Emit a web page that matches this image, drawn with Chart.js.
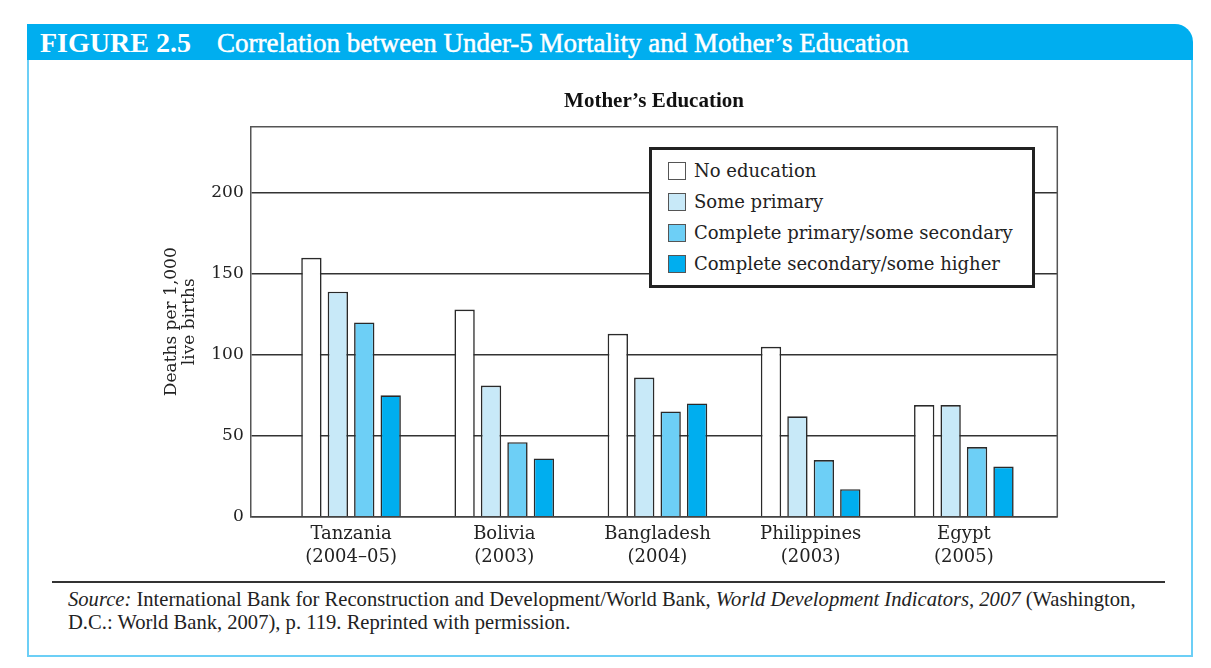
<!DOCTYPE html>
<html><head><meta charset="utf-8">
<script src="https://cdn.jsdelivr.net/npm/chart.js@4.4.0/dist/chart.umd.min.js"></script>
<style>
html,body{margin:0;padding:0;background:#fff;width:1211px;height:668px;overflow:hidden;}
#hdr{position:absolute;left:27px;top:24px;width:1166px;height:36px;background:#00AEEF;border-top-right-radius:18px;color:#fff;font-family:"Liberation Serif",serif;font-size:27px;line-height:38px;white-space:nowrap;}
#hdr .fig{position:absolute;left:13px;top:0;font-weight:bold;font-size:28px;}
#hdr .ttl{position:absolute;left:190px;top:0;-webkit-text-stroke:0.5px #fff;}
#frame{position:absolute;left:27px;top:60px;width:1162px;height:595px;border:2px solid #6ccff6;border-top:none;}
#wrap{position:absolute;left:0;top:0;width:1211px;height:668px;z-index:1;}
#legend{position:absolute;left:649px;top:147px;width:380px;height:130px;border:3px solid #222;background:#fff;z-index:2;font-family:"DejaVu Serif",serif;font-size:18px;color:#222;padding-top:5px;box-sizing:content-box;}
#legend .row{height:31px;display:flex;align-items:center;padding-left:16px;}
#legend .sw{width:16px;height:16px;border:1.5px solid #555;margin-right:8px;flex:none;}
#sep{position:absolute;left:52px;top:581px;width:1113px;height:2px;background:#333;}
#src{position:absolute;left:68px;top:588px;width:1100px;font-family:"Liberation Serif",serif;font-size:20.6px;line-height:23px;color:#222;}
</style></head>
<body>
<div id="hdr"><span class="fig">FIGURE 2.5</span><span class="ttl">Correlation between Under-5 Mortality and Mother’s Education</span></div>
<div id="frame"></div>
<div id="wrap"><canvas id="c" width="1211" height="668"></canvas></div>
<div id="legend"></div>
<div id="sep"></div>
<div id="src"><i>Source:</i> International Bank for Reconstruction and Development/World Bank, <i>World Development Indicators, 2007</i> (Washington, D.C.: World Bank, 2007), p. 119. Reprinted with permission.</div>
<script>
const categories = [["Tanzania","(2004–05)"],["Bolivia","(2003)"],["Bangladesh","(2004)"],["Philippines","(2003)"],["Egypt","(2005)"]];
const seriesNames = ["No education","Some primary","Complete primary/some secondary","Complete secondary/some higher"];
const noEducation = [160,128,113,105,69];
const somePrimary = [139,81,86,62,69];
const completePrimary = [120,46,65,35,43];
const completeSecondary = [75,36,70,17,31];
const yTicks = [0,50,100,150,200];
const seriesColors = ["#ffffff","#c8e9f8","#6dcff6","#00aeef"];

const seriesValues = [noEducation, somePrimary, completePrimary, completeSecondary];
const datasets = seriesValues.map((vals, k) => ({
  label: seriesNames[k],
  data: vals.map((v, i) => ({x: i, y: v})),
  backgroundColor: seriesColors[k],
  borderColor: "#2a2a2a",
  borderWidth: 1.6,
  categoryPercentage: 0.69,
  barPercentage: 0.77
}));

const lg = document.getElementById('legend');
seriesNames.forEach((n, k) => {
  const r = document.createElement('div'); r.className = 'row';
  const s = document.createElement('span'); s.className = 'sw'; s.style.background = seriesColors[k];
  const t = document.createElement('span'); t.textContent = n;
  r.appendChild(s); r.appendChild(t); lg.appendChild(r);
});

const frame = {
  id: 'frame',
  beforeDatasetsDraw(chart) {
    const {ctx, chartArea: a} = chart;
    ctx.save();
    ctx.strokeStyle = '#555'; ctx.lineWidth = 1.5;
    ctx.beginPath();
    ctx.moveTo(a.left, a.top); ctx.lineTo(a.right, a.top); ctx.lineTo(a.right, a.bottom);
    ctx.stroke();
    ctx.restore();
  }
};

const serif = "'DejaVu Serif', serif";
new Chart(document.getElementById('c'), {
  type: 'bar',
  data: { datasets },
  plugins: [frame],
  options: {
    responsive: false,
    animation: false,
    layout: { padding: { left: 159, right: 153.7, top: 88.6, bottom: 0 } },
    plugins: {
      legend: { display: false },
      tooltip: { enabled: false },
      title: {
        display: true, fullSize: false,
        text: "Mother’s Education",
        color: '#111',
        font: { family: "'Liberation Serif', serif", size: 21, weight: 'bold', lineHeight: 1.2 },
        padding: { top: 0, bottom: 12.9 }
      }
    },
    scales: {
      x: {
        type: 'linear',
        offset: false,
        min: -0.655, max: 4.61,
        afterFit(s) { s.height = 151.3; },
        grid: { display: false, drawTicks: false, offset: false },
        border: { display: true, color: '#444', width: 1.5 },
        ticks: {
          stepSize: 1, includeBounds: false, autoSkip: false, maxRotation: 0,
          padding: 6, color: '#222',
          font: { family: serif, size: 18, lineHeight: 1.3 },
          callback: v => categories[v] || ''
        }
      },
      y: {
        min: 0, max: 241,
        afterFit(s) { s.width = 250.7 - 159; },
        afterBuildTicks(s) { s.ticks = yTicks.map(v => ({ value: v })); },
        grid: { color: '#333', lineWidth: 1.5, drawTicks: false },
        border: { display: true, color: '#555', width: 1.5 },
        ticks: { padding: 7, color: '#222', font: { family: serif, size: 17 } },
        title: {
          display: true,
          text: ["Deaths per 1,000", "live births"],
          color: '#222',
          font: { family: serif, size: 17, lineHeight: 1.05 },
          padding: { top: 4, bottom: 0 }
        }
      }
    }
  }
});
</script>
</body></html>
